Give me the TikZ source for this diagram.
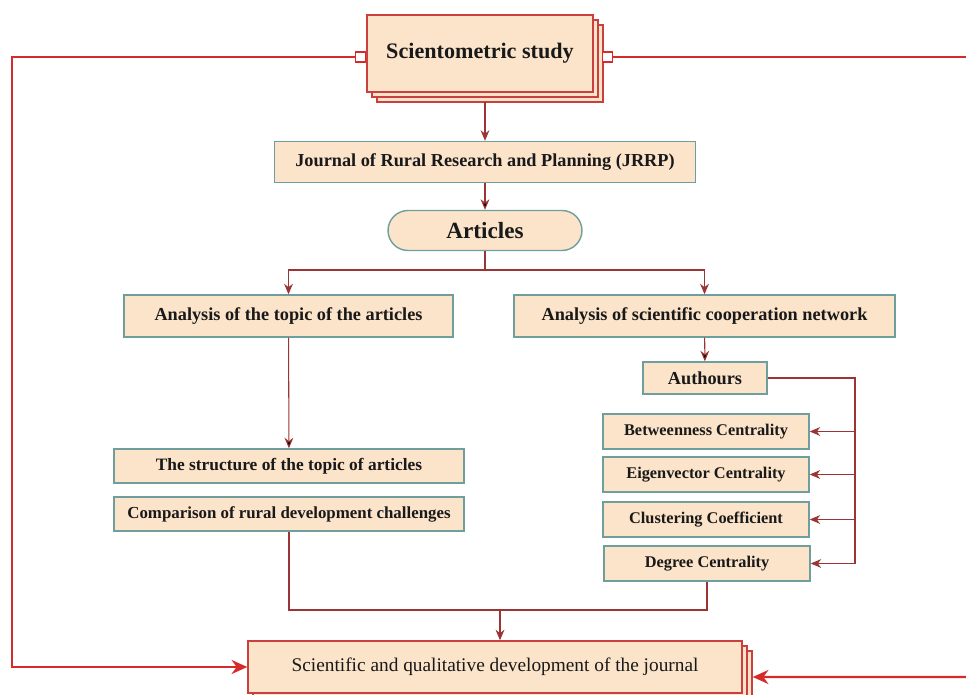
\documentclass[tikz,border=0pt]{standalone}
\usepackage{fontspec}
\setmainfont{Liberation Serif}
\usetikzlibrary{arrows.meta,shadows}
\definecolor{boxfill}{HTML}{FBE4CA}
\definecolor{boxline}{HTML}{6E9F9C}
\definecolor{stackline}{HTML}{C9403F}
\definecolor{linkred}{HTML}{9B3434}
\definecolor{loopred}{HTML}{D52B2B}

\begin{document}
\begin{tikzpicture}[x=0.02cm,y=-0.02cm,
    box/.style={draw=boxline,fill=boxfill,line width=0.8pt,inner sep=0pt,
        text=black!90,font=\bfseries\fontsize{10.4}{12}\selectfont},
    stackbox/.style={draw=stackline,fill=boxfill,line width=0.8pt,inner sep=0pt,
        text=black!90,
        double copy shadow={shadow xshift=0.1cm,shadow yshift=-0.1cm,
            fill=boxfill,draw=stackline,line width=0.8pt}},
    link/.style={draw=linkred,line width=0.6pt},
    arr/.style={link,-{Stealth[length=6pt,width=5pt]}},
    loop/.style={draw=loopred,line width=1.3pt},
    looparr/.style={loop,-{Stealth[length=9pt,width=8pt]}},
    plug/.style={draw=loopred,fill=white,line width=1pt,minimum size=0.2cm,inner sep=0pt}]
        \useasboundingbox (0,0) rectangle (966,695);

        \node[stackbox,minimum width=4.52cm,minimum height=1.54cm,
            font=\bfseries\fontsize{12.6}{14}\selectfont] (1) at (480,53.5) {Scientometric study};
        \node[box,minimum width=8.42cm,minimum height=0.82cm] (2) at (485,162) {Journal of Rural Research and Planning (JRRP)};
        \node[box,rounded corners=0.4cm,minimum width=3.88cm,minimum height=0.8cm,
            font=\bfseries\fontsize{13.2}{15}\selectfont] (3) at (485,230.5) {Articles};
        \node[box,minimum width=6.58cm,minimum height=0.84cm] (4) at (288.5,316) {Analysis of the topic of the articles};
        \node[box,minimum width=7.62cm,minimum height=0.84cm] (5) at (704.5,316) {Analysis of scientific cooperation network};
        \node[box,minimum width=2.48cm,minimum height=0.64cm] (6) at (705,378) {Authours};
        \node[box,minimum width=4.12cm,minimum height=0.7cm,font=\bfseries\fontsize{9.3}{11}\selectfont] (7) at (706,431.5) {Betweenness Centrality};
        \node[box,minimum width=4.12cm,minimum height=0.7cm,font=\bfseries\fontsize{9.3}{11}\selectfont] (8) at (706,474.5) {Eigenvector Centrality};
        \node[box,minimum width=4.12cm,minimum height=0.7cm,font=\bfseries\fontsize{9.3}{11}\selectfont] (9) at (706,519.5) {Clustering Coefficient};
        \node[box,minimum width=4.12cm,minimum height=0.7cm,font=\bfseries\fontsize{9.3}{11}\selectfont] (10) at (707,563.5) {Degree Centrality};
        \node[box,minimum width=7cm,minimum height=0.68cm,font=\bfseries\fontsize{9.9}{12}\selectfont] (11) at (289,466) {The structure of the topic of articles};
        \node[box,minimum width=7cm,minimum height=0.68cm,font=\bfseries\fontsize{9.6}{12}\selectfont] (12) at (289,514) {Comparison of rural development challenges};
        \node[stackbox,minimum width=9.88cm,minimum height=1.04cm,
            font=\fontsize{11}{13}\selectfont] (13) at (495,667) {Scientific and qualitative development of the journal};

        \node[plug,anchor=east] (s1) at ([yshift=-0.07cm]1.west) {};
        \node[plug,anchor=west] (s2) at ([xshift=0.16cm,yshift=-0.07cm]1.east) {};

        \coordinate (t1) at (485,102);
        \coordinate (j1) at (485,270);
        \coordinate (j2) at (855,378);
        \coordinate (j3) at (855,563.5);
        \coordinate (j4) at (500,610);
        \coordinate (c1) at (12,667);
        \coordinate (c2) at (970,0);
        \coordinate (c3) at (970,677);

        \draw[arr] (t1) -- (2.north);
        \path[arr]
            (2) edge (3)
            (4) edge (11)
            (5) edge (6)
        ;
        \draw[link] (3.south) -- (j1);
        \draw[arr] (j1) -| (4.north);
        \draw[arr] (j1) -| (5.north);
        \draw[link] (6.east) -- (j2) -- (j3);
        \draw[arr] (7.east -| j2) -- (7.east);
        \draw[arr] (8.east -| j2) -- (8.east);
        \draw[arr] (9.east -| j2) -- (9.east);
        \draw[arr] (j3) -- (10.east);
        \draw[link] (12.south) |- (j4);
        \draw[link] (10.south) |- (j4);
        \draw[arr] (j4) -- (j4 |- 13.north);

        \draw[looparr] (s1.west) -| (c1) -- (13.west);
        \draw[loop] (s2.east) -- (s2.east -| c2);
        \draw[looparr] (c3) -- ([xshift=0.2cm,yshift=-0.2cm]13.east);
    \end{tikzpicture}
\end{document}
